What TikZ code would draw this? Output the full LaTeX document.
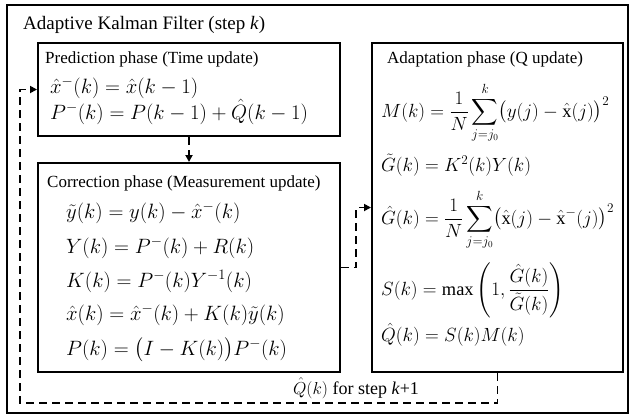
\documentclass[tikz,border=0pt]{standalone}
\usepackage{amsmath,amssymb}
\usepackage{fontspec}
\setmainfont{Liberation Serif}
\usetikzlibrary{arrows.meta}

\tikzset{
  phasebox/.style={draw,line width=2pt,inner sep=0pt},
  phasetitle/.style={anchor=base west,inner sep=0pt,font=\fontsize{17}{20}\selectfont},
  eqn/.style={anchor=base west,inner sep=0pt,font=\fontsize{20}{24}\selectfont},
  adapteqn/.style={eqn,scale=0.92,transform shape},
  flow/.style={line width=1.8pt,dash pattern=on 8pt off 5pt},
}

\begin{document}
\begin{tikzpicture}[x=1pt,y=1pt,>={Triangle[length=7pt,width=7pt]}]
	  \useasboundingbox (0,0) rectangle (631,-416);
	  % frames
	  \node[phasebox,minimum width=621pt,minimum height=408pt] (outer) at (317.5,-209) {};
	  \node[phasebox,minimum width=302pt,minimum height=93pt] (pred) at (189,-89.5) {};
	  \node[phasebox,minimum width=302pt,minimum height=209pt] (corr) at (189,-267.5) {};
	  \node[phasebox,minimum width=251pt,minimum height=329pt] (adapt) at (497.5,-207.5) {};
	  % titles
	  \node[anchor=base west,inner sep=0pt,font=\fontsize{19}{22}\selectfont] (title) at (23,-29) {Adaptive Kalman Filter (step \textit{k})};
	  \node[phasetitle] (predtitle) at (45,-63) {Prediction phase (Time update)};
	  \node[phasetitle] (corrtitle) at (47,-187) {Correction phase (Measurement update)};
	  \node[phasetitle] (adapttitle) at (387,-63) {Adaptation phase (Q update)};
	  % prediction
	  \node[eqn] (pred1) at (50,-93) {$\hat{x}^{-}(k) = \hat{x}(k-1)$};
	  \node[eqn] (pred2) at (50,-119) {$P^{-}(k) = P(k-1) + \hat{Q}(k-1)$};
	  % correction
	  \node[eqn] (corr1) at (66,-218) {$\tilde{y}(k) = y(k) - \hat{x}^{-}(k)$};
	  \node[eqn] (corr2) at (66,-253) {$Y(k) = P^{-}(k) + R(k)$};
	  \node[eqn] (corr3) at (66,-287) {$K(k) = P^{-}(k)Y^{-1}(k)$};
	  \node[eqn] (corr4) at (66,-320) {$\hat{x}(k) = \hat{x}^{-}(k) + K(k)\tilde{y}(k)$};
	  \node[eqn] (corr5) at (66,-355) {$P(k) = \bigl(I - K(k)\bigr)P^{-}(k)$};
	  % adaptation
	  \node[adapteqn] (adapt1) at (381,-117) {$\displaystyle M(k) = \frac{1}{N}\sum_{j=j_0}^{k}\bigl(y(j) - \hat{\mathrm{x}}(j)\bigr)^2$};
	  \node[adapteqn] (adapt2) at (381,-171) {$\tilde{G}(k) = K^2(k)Y(k)$};
	  \node[adapteqn] (adapt3) at (381,-224) {$\displaystyle \hat{G}(k) = \frac{1}{N}\sum_{j=j_0}^{k}\bigl(\hat{\mathrm{x}}(j) - \hat{\mathrm{x}}^{-}(j)\bigr)^2$};
	  \node[adapteqn] (adapt4) at (381,-295) {$\displaystyle S(k) = \max\left(1,\frac{\hat{G}(k)}{\tilde{G}(k)}\right)$};
	  \node[adapteqn] (adapt5) at (381,-341) {$\hat{Q}(k) = S(k)M(k)$};
	  \node[anchor=base,inner sep=0pt,font=\fontsize{18}{22}\selectfont] (qlabel) at (356,-394) {$\hat{Q}(k)$ for step \textit{k}+1};
	  % connectors
	  \coordinate (loop) at (20,-403);
	  \draw[flow,->] (pred.south) -- (corr.north);
	  \draw[flow,->] (corr.east) -- ++(15,0) |- (adapt.west);
	  \draw[flow,->] (adapt.south) |- (loop) |- (pred.west);
	\end{tikzpicture}
\end{document}
